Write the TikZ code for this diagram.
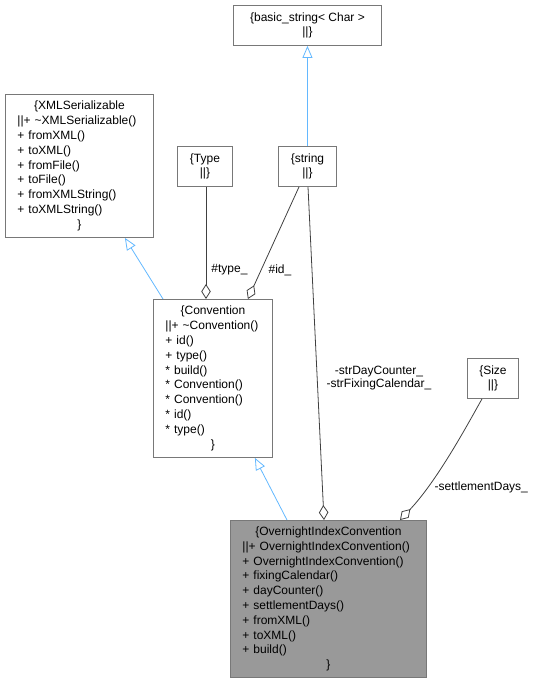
\documentclass[tikz,border=0pt]{standalone}
\usepackage{fontspec}
\setmainfont{Liberation Sans}
\usetikzlibrary{arrows.meta, positioning}
\definecolor{edgegray}{RGB}{64,64,64}
\definecolor{boxgray}{RGB}{120,120,120}
\definecolor{inheritblue}{RGB}{99,184,255}
\definecolor{focusgray}{RGB}{153,153,153}
\newcommand{\midline}[1]{\makebox[\hsize]{#1}}

\begin{document}
\begin{tikzpicture}[x=1pt, y=-1pt, every node/.style={font=\fontsize{12}{14.8}\selectfont},
    record/.style={draw=boxgray, line width=0.9pt, fill=white, inner sep=0pt, anchor=north west, align=center},
    classbox/.style={record, align=left},
    lbl/.style={inner sep=0pt, text=black, font=\fontsize{12}{13}\selectfont},
    inherit/.style={inheritblue, line width=0.8pt, -{Triangle[open, length=12pt, width=10pt]}},
    member/.style={edgegray, line width=0.8pt, -{Diamond[open, length=15pt, width=9.5pt]}}]
    \useasboundingbox (0,0) rectangle (542,683);
    % boxes
    \node[record, minimum width=148pt, minimum height=40pt] (basicstr) at (233,5) {\{basic\_string< Char >\\||\}};
    \node[record, minimum width=55pt, minimum height=40pt] (typeb) at (177,146) {\{Type\\||\}};
    \node[record, minimum width=58pt, minimum height=40pt] (strb) at (278,146) {\{string\\||\}};
    \node[record, minimum width=51pt, minimum height=40pt] (sizeb) at (467,358) {\{Size\\||\}};
    \node[classbox, minimum width=148pt, minimum height=143pt, text width=124pt] (xmlser) at (5,94)
        {\midline{\{XMLSerializable}\\||+ \textasciitilde XMLSerializable()\\+ fromXML()\\+ toXML()\\+ fromFile()\\+ toFile()\\+ fromXMLString()\\+ toXMLString()\\\midline{\}}};
    \node[classbox, minimum width=119pt, minimum height=158pt, text width=95pt] (convention) at (153,299)
        {\midline{\{Convention}\\||+ \textasciitilde Convention()\\+ id()\\+ type()\\{}* build()\\{}* Convention()\\{}* Convention()\\{}* id()\\{}* type()\\\midline{\}}};
    \node[classbox, fill=focusgray, minimum width=196pt, minimum height=157pt, text width=172pt] (overnight) at (230,520)
        {\midline{\{OvernightIndexConvention}\\||+ OvernightIndexConvention()\\+ OvernightIndexConvention()\\+ fixingCalendar()\\+ dayCounter()\\+ settlementDays()\\+ fromXML()\\+ toXML()\\+ build()\\\midline{\}}};
    % inheritance
    \draw[inherit] (strb.north) -- (basicstr.south);
    \draw[inherit] ([xshift=10pt]convention.north west) -- ([xshift=-29pt]xmlser.south east);
    \draw[inherit] ([xshift=57pt]overnight.north west) -- ([xshift=-18pt]convention.south east);
    % members
    \draw[member] ([xshift=29pt]typeb.south west) -- node[lbl, pos=.74, right=5pt] (typelbl) {\#type\_} ([xshift=53pt]convention.north west);
    \draw[member] ([xshift=21pt]strb.south west) -- node[lbl, pos=.74, right=7pt] (idlbl) {\#id\_} ([xshift=-25pt]convention.north east);
    \draw[member] ([xshift=30pt]strb.south west) -- node[lbl, pos=.575, right=9pt, align=center] (strlbl) {-strDayCounter\_\\-strFixingCalendar\_} ([xshift=94pt]overnight.north west);
    \draw[member] ([xshift=15pt]sizeb.south west) .. controls (470,420) and (438,480) .. node[lbl, pos=.75, right=7pt] (setlbl) {-settlementDays\_} ([xshift=170pt]overnight.north west);
\end{tikzpicture}
\end{document}
